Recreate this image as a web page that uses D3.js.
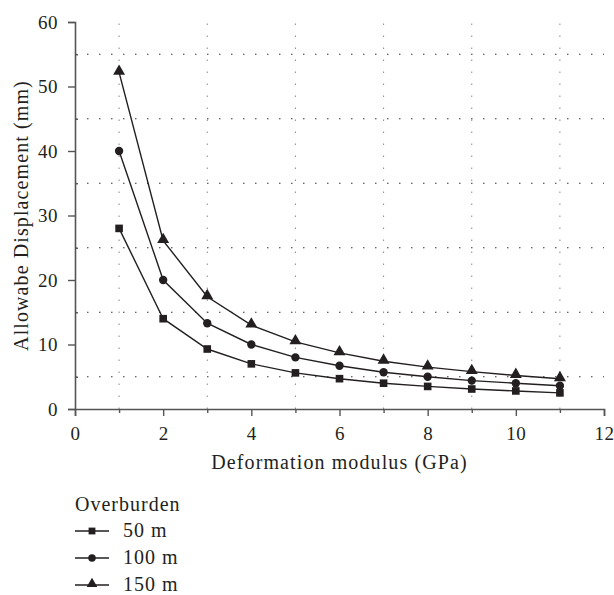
<!doctype html>
<html lang="en">
<head>
	<meta charset="utf-8">
	<title>Allowable displacement</title>
	<script src="https://cdn.jsdelivr.net/npm/d3@7"></script>
	<style>
		body { margin: 0; background: #fff; }
		svg text { font-family: "Liberation Serif", "Times New Roman", Times, "DejaVu Serif", serif !important; fill: #231f20; }
	</style>
</head>
<body>
	<svg id="chart" width="614" height="595"></svg>
	<script>
		// data
		var modulus = [1, 2, 3, 4, 5, 6, 7, 8, 9, 10, 11];
		var ob50 = [28, 14, 9.3, 7, 5.6, 4.7, 4, 3.5, 3.1, 2.8, 2.5];
		var ob100 = [40, 20, 13.3, 10, 8, 6.7, 5.7, 5, 4.4, 4, 3.6];
		var ob150 = [52.2, 26.1, 17.4, 13, 10.4, 8.7, 7.4, 6.5, 5.8, 5.2, 4.7];
		var seriesNames = ["50 m", "100 m", "150 m"];
		var xTicks = [0, 2, 4, 6, 8, 10, 12];
		var yTicks = [0, 10, 20, 30, 40, 50, 60];

		var svg = d3.select("#chart");
		var xScale = d3.scaleLinear().domain([0, 12]).range([75, 604]);
		var yScale = d3.scaleLinear().domain([0, 60]).range([409, 22]);
		var axisColor = "#555";

		//dotted grid at the odd / in-between values
		var vGrid = [1, 3, 5, 7, 9, 11];
		var hGrid = [5, 15, 25, 35, 45, 55];
		svg.append("g").selectAll("line.vg").data(vGrid).enter().append("line")
			.attr("x1", function(d) { return xScale(d); })
			.attr("x2", function(d) { return xScale(d); })
			.attr("y1", yScale(0)).attr("y2", yScale(60))
			.attr("stroke", "#888").attr("stroke-width", 1)
			.attr("stroke-dasharray", "1.5,10.5");
		svg.append("g").selectAll("line.hg").data(hGrid).enter().append("line")
			.attr("x1", xScale(0)).attr("x2", xScale(12))
			.attr("y1", function(d) { return yScale(d); })
			.attr("y2", function(d) { return yScale(d); })
			.attr("stroke", "#333").attr("stroke-width", 1)
			.attr("stroke-dasharray", "1.5,10.5");

		//x axis
		var xAxis = d3.axisBottom(xScale).tickValues(xTicks).tickSize(7).tickPadding(11)
			.tickFormat(d3.format("d"));
		var gx = svg.append("g").attr("transform", "translate(0," + yScale(0) + ")").call(xAxis);
		var xMinor = d3.axisBottom(xScale).tickValues(vGrid).tickSize(4).tickFormat("");
		var gxm = svg.append("g").attr("transform", "translate(0," + yScale(0) + ")").call(xMinor);
		gxm.select(".domain").remove();

		//y axis
		var yAxis = d3.axisLeft(yScale).tickValues(yTicks).tickSize(7).tickPadding(10)
			.tickFormat(d3.format("d"));
		var gy = svg.append("g").attr("transform", "translate(" + xScale(0) + ",0)").call(yAxis);
		var yMinor = d3.axisRight(yScale).tickValues(hGrid).tickSize(3).tickFormat("");
		var gym = svg.append("g").attr("transform", "translate(" + xScale(0) + ",0)").call(yMinor);
		gym.select(".domain").remove();

		[gx, gxm, gy, gym].forEach(function(g) {
			g.attr("font-family", null).attr("font-size", null);
			g.selectAll(".domain").attr("stroke", axisColor).attr("stroke-width", 1.6);
			g.selectAll(".tick line").attr("stroke", axisColor).attr("stroke-width", 1.4);
			g.selectAll("text").style("font-size", "19px").style("letter-spacing", "0.5px")
				.attr("fill", "#231f20");
		});

		//axis titles
		svg.append("text").attr("x", (xScale(0) + xScale(12)) / 2).attr("y", 469)
			.attr("text-anchor", "middle").style("font-size", "20px").style("letter-spacing", "1.1px")
			.text("Deformation modulus (GPa)");
		svg.append("text").attr("transform", "translate(28," + yScale(30) + ") rotate(-90)")
			.attr("text-anchor", "middle").style("font-size", "20px").style("letter-spacing", "1.1px")
			.text("Allowabe Displacement (mm)");

		//lines and markers
		var allSeries = [ob50, ob100, ob150];
		var shapes = [d3.symbolSquare, d3.symbolCircle, d3.symbolTriangle];
		var sizes = [58, 55, 62];
		var line = d3.line()
			.x(function(d, i) { return xScale(modulus[i]); })
			.y(function(d) { return yScale(d); });

		allSeries.forEach(function(vals, s) {
			svg.append("path").attr("d", line(vals))
				.attr("fill", "none").attr("stroke", "#231f20").attr("stroke-width", 1.4);
			svg.append("g").selectAll("path").data(vals).enter().append("path")
				.attr("d", d3.symbol().type(shapes[s]).size(sizes[s]))
				.attr("transform", function(d, i) {
					var dy = s == 2 ? -1 : 0;
					return "translate(" + xScale(modulus[i]) + "," + (yScale(d) + dy) + ")";
				})
				.attr("fill", "#231f20");
		});

		//legend
		var legend = svg.append("g").attr("transform", "translate(75,0)");
		legend.append("text").attr("x", 0).attr("y", 511).style("font-size", "20px")
			.style("letter-spacing", "1px").text("Overburden");
		var rowY = [531, 558, 585];
		seriesNames.forEach(function(name, s) {
			var y = rowY[s];
			legend.append("line").attr("x1", 0).attr("x2", 34).attr("y1", y).attr("y2", y)
				.attr("stroke", "#231f20").attr("stroke-width", 1.4);
			legend.append("path").attr("d", d3.symbol().type(shapes[s]).size(sizes[s] * 0.8))
				.attr("transform", "translate(17," + (s == 2 ? y - 1 : y) + ")").attr("fill", "#231f20");
			legend.append("text").attr("x", 48).attr("y", y + 6).style("font-size", "20px")
				.style("letter-spacing", "1px").text(name);
		});
	</script>
</body>
</html>
